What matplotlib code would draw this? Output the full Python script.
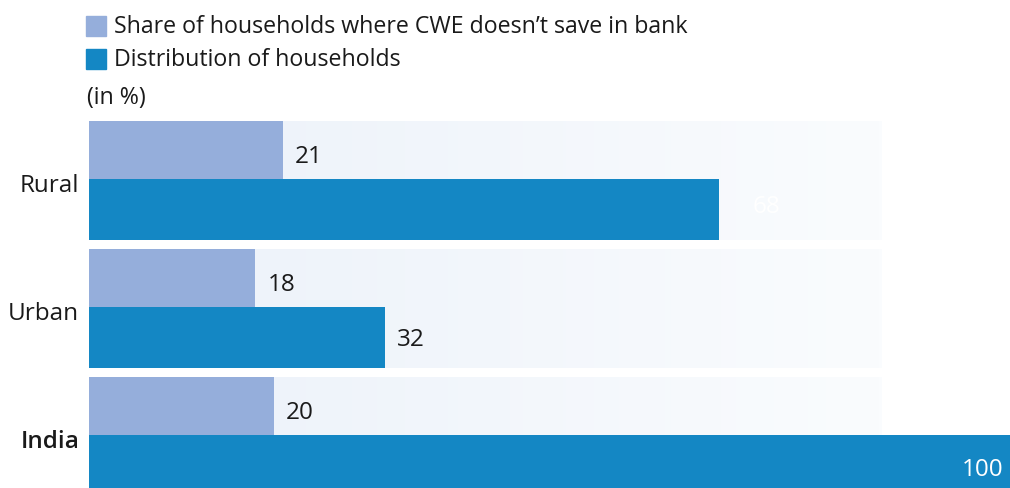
import numpy as np
import matplotlib.pyplot as plt
from matplotlib.patches import Rectangle
from matplotlib.colors import LinearSegmentedColormap

plt.rcParams['font.family'] = ['Open Sans', 'DejaVu Sans']

CATEGORIES = ["Rural", "Urban", "India"]
SHARE_NO_BANK = [21, 18, 20]
DISTRIBUTION = [68, 32, 100]
LEGEND_LABELS = ["Share of households where CWE doesn\u2019t save in bank",
                 "Distribution of households"]

LIGHT = "#95aedb"
DARK = "#1487c4"
TEXT = "#1a1a1a"

W, H = 1010, 489
fig = plt.figure(figsize=(W / 100, H / 100), dpi=100)
ax = fig.add_axes([88.5 / W, 0, 1 - 88.5 / W, 1])

# y: group centre at pixel 180 + 128*i
pitch = 128.0
ax.set_ylim((H - 180) / pitch, -180 / pitch)
ax.set_xlim(0, 99.4)
ax.axis("off")

top_h = 58 / pitch
bot_h = 61 / pitch

# faded background bands
grad = np.linspace(0, 1, 256).reshape(1, -1)
cmap = LinearSegmentedColormap.from_list("band", ["#ebf1f9", "#fafcfe"])
for i in range(len(CATEGORIES)):
    ax.imshow(grad, cmap=cmap, aspect="auto", zorder=0,
              extent=[0, 85.5, i + bot_h, i - top_h])

y = np.arange(len(CATEGORIES))
ax.barh(y - top_h / 2, SHARE_NO_BANK, height=top_h, color=LIGHT, zorder=2)
ax.barh(y + bot_h / 2, DISTRIBUTION, height=bot_h, color=DARK, zorder=2)

for i, v in enumerate(SHARE_NO_BANK):
    ax.text(v + 1.3, i - top_h / 2 + 0.05, str(v), fontsize=17.5, color=TEXT,
            va="center", ha="left", zorder=3)

for i, v in enumerate(DISTRIBUTION):
    if v >= 100:
        ax.text(v - 1.3, i + bot_h / 2 + 0.03, str(v), fontsize=17.5, color="white",
                va="center", ha="right", zorder=3)
    elif v > 50:
        ax.text(v + 3.6, i + bot_h / 2 - 0.03, str(v), fontsize=17.5, color="white",
                va="center", ha="left", zorder=3)
    else:
        ax.text(v + 1.3, i + bot_h / 2 + 0.01, str(v), fontsize=17.5, color=TEXT,
                va="center", ha="left", zorder=3)

for i, c in enumerate(CATEGORIES):
    ax.text(-1.0, i + 0.05, c, fontsize=17.5, color=TEXT, va="center", ha="right",
            fontweight="semibold" if c == "India" else "normal", clip_on=False)

# key
for j, (lab, col) in enumerate(zip(LEGEND_LABELS, [LIGHT, DARK])):
    yc = 27 + 33 * j
    fig.patches.append(Rectangle((86 / W, 1 - (yc + 10) / H), 20 / W, 20 / H,
                                 color=col, transform=fig.transFigure))
    fig.text(114 / W, 1 - yc / H, lab, fontsize=16.7, color=TEXT, va="center")

fig.text(87 / W, 1 - 98 / H, "(in %)", fontsize=16.7, color=TEXT, va="center")

fig.savefig("out.png", dpi=100, facecolor="white")
